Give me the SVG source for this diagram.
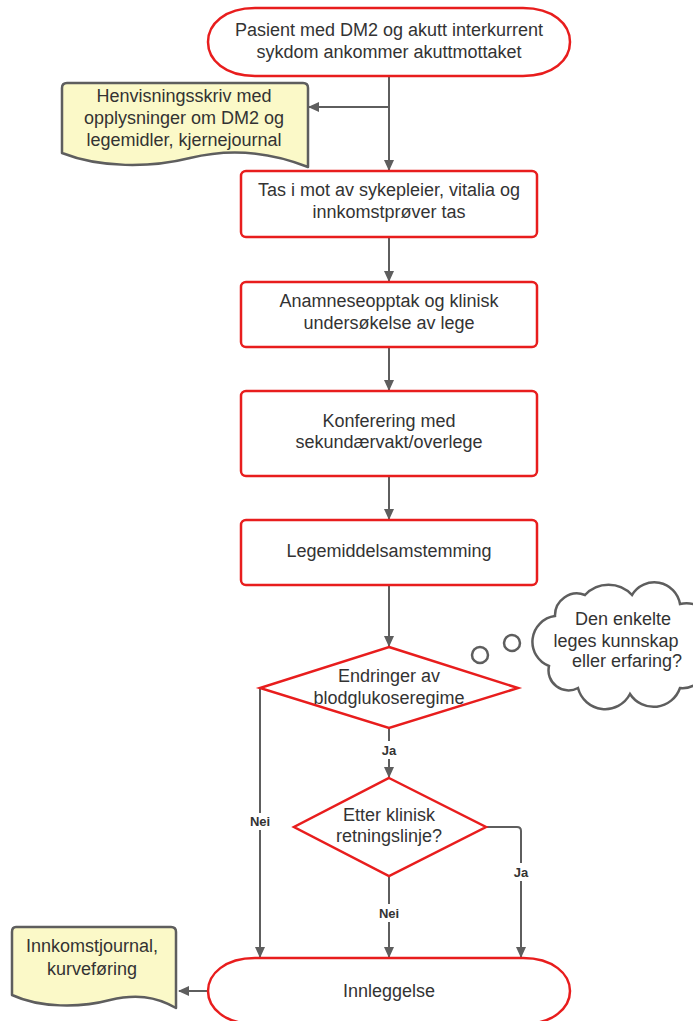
<svg xmlns="http://www.w3.org/2000/svg" width="693" height="1021" viewBox="0 0 693 1021">
  <defs>
    <style>
      .proc { fill: #ffffff; stroke: #e81d1d; stroke-width: 2.5; }
      .doc { fill: #fbf9c8; stroke: #5e5e5e; stroke-width: 2.5; stroke-linejoin: round; }
      .cloud { fill: #ffffff; stroke: #5e5e5e; stroke-width: 2.5; }
      .edge { fill: none; stroke: #5e5e5e; stroke-width: 2; }
      .txt { font-family: "Liberation Sans", Arial, sans-serif; font-size: 18px; fill: #333333; text-anchor: middle; }
      .lbl { font-family: "Liberation Sans", Arial, sans-serif; font-size: 13px; font-weight: bold; fill: #333333; text-anchor: middle; }
    </style>
    <marker id="arrow" markerWidth="11" markerHeight="11" refX="10" refY="5.5" orient="auto" markerUnits="userSpaceOnUse">
      <path d="M0,0.5 L11,5.5 L0,10.5 Z" fill="#5e5e5e"/>
    </marker>
  </defs>

  <!-- connectors -->
  <g id="connectors">
    <path class="edge" d="M389,76 V170" marker-end="url(#arrow)"/>
    <path class="edge" d="M389,107 H309" marker-end="url(#arrow)"/>
    <path class="edge" d="M389,237 V281" marker-end="url(#arrow)"/>
    <path class="edge" d="M389,347 V390" marker-end="url(#arrow)"/>
    <path class="edge" d="M389,476 V519" marker-end="url(#arrow)"/>
    <path class="edge" d="M389,585 V646" marker-end="url(#arrow)"/>
    <path class="edge" d="M389,728 V741 M389,759 V777" marker-end="url(#arrow)"/>
    <path class="edge" d="M260,688 V813 M260,830 V957" marker-end="url(#arrow)"/>
    <path class="edge" d="M389,876 V904 M389,922 V957" marker-end="url(#arrow)"/>
    <path class="edge" d="M486,827 H517 Q521,827 521,831 V863 M521,881 V957" marker-end="url(#arrow)"/>
    <path class="edge" d="M208,991 H179" marker-end="url(#arrow)"/>
    <text class="lbl" x="389" y="755">Ja</text>
    <text class="lbl" x="260" y="826">Nei</text>
    <text class="lbl" x="389" y="918">Nei</text>
    <text class="lbl" x="521" y="877">Ja</text>
  </g>

  <!-- start terminator -->
  <g id="start">
    <path class="proc" d="M255,8 H523 C553,8 570,24 570,42 C570,60 553,76 523,76 H255 C225,76 208,60 208,42 C208,24 225,8 255,8 Z"/>
    <text class="txt" x="389" y="36">Pasient med DM2 og akutt interkurrent</text>
    <text class="txt" x="389" y="58">sykdom ankommer akuttmottaket</text>
  </g>

  <!-- referral document -->
  <g id="doc-referral">
    <path class="doc" d="M67,83 H303 Q308,83 308,88 V167 C270,152 230,148 190,158 C150,168 100,168 62,153 V88 Q62,83 67,83 Z"/>
    <text class="txt" x="184" y="102">Henvisningsskriv med</text>
    <text class="txt" x="184" y="124">opplysninger om DM2 og</text>
    <text class="txt" x="184" y="146">legemidler, kjernejournal</text>
  </g>

  <g id="reception">
    <rect class="proc" x="241" y="171" width="296" height="66" rx="5"/>
    <text class="txt" x="389" y="196">Tas i mot av sykepleier, vitalia og</text>
    <text class="txt" x="389" y="218">innkomstprøver tas</text>
  </g>

  <g id="anamnesis">
    <rect class="proc" x="241" y="282" width="296" height="65" rx="5"/>
    <text class="txt" x="389" y="307">Anamneseopptak og klinisk</text>
    <text class="txt" x="389" y="329">undersøkelse av lege</text>
  </g>

  <g id="conference">
    <rect class="proc" x="241" y="391" width="296" height="85" rx="5"/>
    <text class="txt" x="389" y="427">Konferering med</text>
    <text class="txt" x="389" y="448">sekundærvakt/overlege</text>
  </g>

  <g id="reconciliation">
    <rect class="proc" x="241" y="520" width="296" height="65" rx="5"/>
    <text class="txt" x="389" y="557">Legemiddelsamstemming</text>
  </g>

  <g id="decision-regime">
    <path class="proc" d="M389,647 L518,688 L389,728 L260,688 Z"/>
    <text class="txt" x="389" y="682">Endringer av</text>
    <text class="txt" x="389" y="704">blodglukoseregime</text>
  </g>

  <g id="decision-guideline">
    <path class="proc" d="M389,778 L486,827 L389,876 L294,827 Z"/>
    <text class="txt" x="389" y="821">Etter klinisk</text>
    <text class="txt" x="389" y="842">retningslinje?</text>
  </g>

  <!-- thought cloud -->
  <g id="thought">
    <circle class="cloud" cx="480" cy="655" r="8"/>
    <circle class="cloud" cx="512" cy="643" r="8"/>
    <path class="cloud" d="M549,666 A26,26 0 0 1 555,616 A22,22 0 0 1 585,595 A32,32 0 0 1 632,595 A26,26 0 0 1 680,604 A26,26 0 0 1 702,650 A24,24 0 0 1 680,688 A28,28 0 0 1 630,694 A28,28 0 0 1 578,688 A20,20 0 0 1 549,666 Z"/>
    <text class="txt" x="623" y="625">Den enkelte</text>
    <text class="txt" x="616" y="647">leges kunnskap</text>
    <text class="txt" x="627" y="667">eller erfaring?</text>
  </g>

  <!-- end terminator -->
  <g id="admission">
    <path class="proc" d="M255,958 H523 C553,958 570,974 570,991 C570,1008 553,1024 523,1024 H255 C225,1024 208,1008 208,991 C208,974 225,958 255,958 Z"/>
    <text class="txt" x="389" y="997">Innleggelse</text>
  </g>

  <g id="doc-admission">
    <path class="doc" d="M16,927 H171 Q176,927 176,932 V1008 C155,996 135,994 110,1000 C80,1008 40,1008 12,995 V932 Q12,927 16,927 Z"/>
    <text class="txt" x="92" y="952">Innkomstjournal,</text>
    <text class="txt" x="92" y="975">kurveføring</text>
  </g>
</svg>
